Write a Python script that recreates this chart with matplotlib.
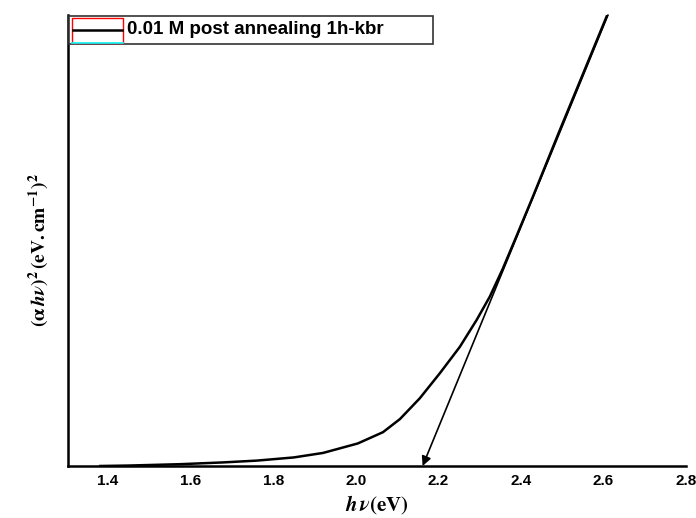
import numpy as np
import matplotlib
matplotlib.use('Agg')
import matplotlib.pyplot as plt
from matplotlib.patches import Rectangle

# du lieu doc tu hinh (don vi tuy y tren truc y)
energy = [1.381, 1.45, 1.574, 1.68, 1.761, 1.85, 1.921, 2.005, 2.066, 2.107,
          2.155, 2.204, 2.252, 2.293, 2.325, 2.356, 2.390, 2.429, 2.494,
          2.553, 2.611, 2.64]
absorb = [0.0, 0.001, 0.004, 0.008, 0.012, 0.019, 0.029, 0.050, 0.075, 0.104,
          0.150, 0.206, 0.264, 0.324, 0.376, 0.437, 0.511, 0.597, 0.744,
          0.875, 1.004, 1.07]

# duong tiep tuyen -> band gap
tangent_top = (2.611, 1.0)
band_gap = 2.162

legend_label = '0.01 M post annealing 1h-kbr'
xticks = [1.4, 1.6, 1.8, 2.0, 2.2, 2.4, 2.6, 2.8]

plt.rcParams['mathtext.fontset'] = 'stix'

fig = plt.figure(figsize=(6.96, 5.18), dpi=100)
ax = fig.add_axes([68/696, 52/518, 618/696, 451/518])

ax.plot(energy, absorb, color='black', lw=1.8, solid_joinstyle='round')
ax.annotate('', xy=(band_gap, 0), xytext=tangent_top,
            arrowprops=dict(arrowstyle='-|>', color='black', lw=1.2,
                            mutation_scale=14, shrinkA=0, shrinkB=0))

ax.set_xlim(1.303, 2.8)
ax.set_ylim(0, 1)
ax.set_xticks(xticks)
ax.set_xticklabels([f'{t:.1f}' for t in xticks], fontfamily='Liberation Sans',
                   fontweight='bold', fontsize=11)
ax.set_yticks([])
ax.tick_params(axis='x', length=0, pad=6)
for s in ['top', 'right']:
    ax.spines[s].set_visible(False)
for s in ['left', 'bottom']:
    ax.spines[s].set_linewidth(1.8)

ax.set_xlabel(r'$\mathbfit{h\,\nu}\mathbf{(eV)}$', fontsize=15, labelpad=4)
fig.text(39/696, 1 - 250/518, r'$\mathbf{(\alpha\,}\mathbfit{h\nu}\mathbf{)^2\,(eV.cm^{-1})^2}$',
         rotation=90, fontsize=14, ha='center', va='center')

# chu thich ve tay
W, H = 696, 518
fig.patches.append(Rectangle((69/W, 1 - 44/H), 364/W, 28/H, transform=fig.transFigure,
                             facecolor='white', edgecolor='#333333', lw=1.2))
fig.patches.append(Rectangle((72/W, 1 - 43/H), 51/W, 25/H, transform=fig.transFigure,
                             facecolor='none', edgecolor='red', lw=1.0))
fig.lines.append(plt.Line2D([72/W, 123/W], [1 - 43/H, 1 - 43/H], transform=fig.transFigure,
                            color='cyan', lw=1.2))
fig.lines.append(plt.Line2D([73/W, 122/W], [1 - 30/H, 1 - 30/H], transform=fig.transFigure,
                            color='black', lw=1.8))
fig.text(127/W, 1 - 30/H, legend_label, fontfamily='Liberation Sans', fontweight='bold',
         fontsize=13.5, ha='left', va='center')

fig.savefig('out.png', dpi=100)
